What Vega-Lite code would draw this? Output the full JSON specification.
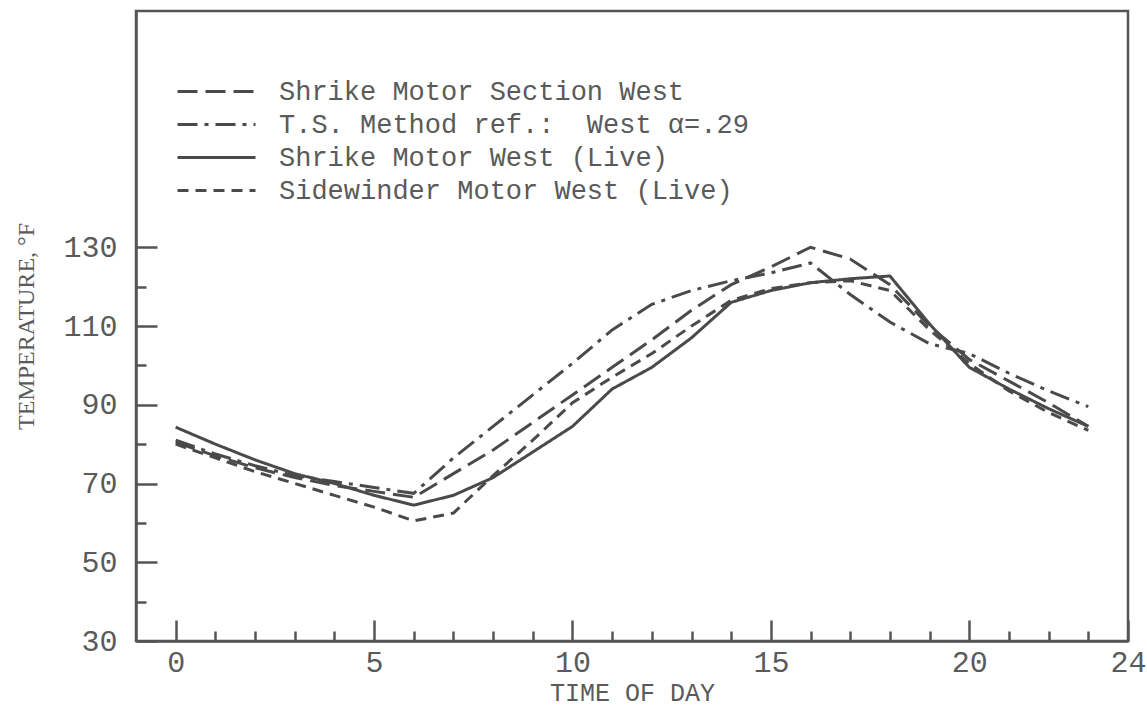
{
  "$schema": "https://vega.github.io/schema/vega-lite/v6.json",
  "width": 992,
  "height": 630,
  "autosize": {"type": "none"},
  "padding": {"left": 136, "top": 11, "right": 19, "bottom": 68},
  "background": "white",
  "config": {
    "view": {"stroke": "#555555", "strokeWidth": 2.5},
    "font": "Liberation Mono",
    "axis": {
      "domainColor": "#555555", "domainWidth": 2.5,
      "tickColor": "#555555", "tickWidth": 2.5,
      "grid": false,
      "labelColor": "#5a5a5a", "titleColor": "#5a5a5a",
      "labelFont": "Liberation Mono", "titleFont": "Liberation Mono",
      "titleFontWeight": "normal"
    },
    "legend": {
      "orient": "none", "legendX": 40, "legendY": 64,
      "symbolType": "stroke", "symbolSize": 6084, "symbolStrokeWidth": 3,
      "symbolStrokeColor": "#4a4a4a",
      "labelFont": "Liberation Mono", "labelFontSize": 27, "labelColor": "#5a5a5a",
      "labelOffset": 22, "labelLimit": 800, "clipHeight": 33, "rowPadding": 0,
      "padding": 0
    }
  },
  "data": {"values": [
    {"h":0,"t":80.5,"s":"A"},{"h":1,"t":77,"s":"A"},{"h":2,"t":74,"s":"A"},{"h":3,"t":71.5,"s":"A"},{"h":4,"t":69.5,"s":"A"},{"h":5,"t":68,"s":"A"},{"h":6,"t":66.5,"s":"A"},{"h":7,"t":72.5,"s":"A"},{"h":8,"t":78.5,"s":"A"},{"h":9,"t":85.5,"s":"A"},{"h":10,"t":92.5,"s":"A"},{"h":11,"t":99.5,"s":"A"},{"h":12,"t":106.5,"s":"A"},{"h":13,"t":114,"s":"A"},{"h":14,"t":120.5,"s":"A"},{"h":15,"t":125,"s":"A"},{"h":16,"t":130,"s":"A"},{"h":17,"t":127,"s":"A"},{"h":18,"t":120.5,"s":"A"},{"h":19,"t":110,"s":"A"},{"h":20,"t":101.5,"s":"A"},{"h":21,"t":96,"s":"A"},{"h":22,"t":90.5,"s":"A"},{"h":23,"t":84.5,"s":"A"},
    {"h":0,"t":81,"s":"B"},{"h":1,"t":77.5,"s":"B"},{"h":2,"t":74.5,"s":"B"},{"h":3,"t":72,"s":"B"},{"h":4,"t":70.5,"s":"B"},{"h":5,"t":69,"s":"B"},{"h":6,"t":67.5,"s":"B"},{"h":7,"t":76.5,"s":"B"},{"h":8,"t":84.5,"s":"B"},{"h":9,"t":92.5,"s":"B"},{"h":10,"t":100.5,"s":"B"},{"h":11,"t":109,"s":"B"},{"h":12,"t":115.5,"s":"B"},{"h":13,"t":119,"s":"B"},{"h":14,"t":121.5,"s":"B"},{"h":15,"t":123.5,"s":"B"},{"h":16,"t":126,"s":"B"},{"h":17,"t":118,"s":"B"},{"h":18,"t":111,"s":"B"},{"h":19,"t":105.5,"s":"B"},{"h":20,"t":103,"s":"B"},{"h":21,"t":98,"s":"B"},{"h":22,"t":93.5,"s":"B"},{"h":23,"t":89.5,"s":"B"},
    {"h":0,"t":84.3,"s":"C"},{"h":1,"t":80,"s":"C"},{"h":2,"t":76,"s":"C"},{"h":3,"t":72.5,"s":"C"},{"h":4,"t":70,"s":"C"},{"h":5,"t":67,"s":"C"},{"h":6,"t":64.5,"s":"C"},{"h":7,"t":67,"s":"C"},{"h":8,"t":71.5,"s":"C"},{"h":9,"t":78,"s":"C"},{"h":10,"t":84.5,"s":"C"},{"h":11,"t":94,"s":"C"},{"h":12,"t":99.5,"s":"C"},{"h":13,"t":107,"s":"C"},{"h":14,"t":116,"s":"C"},{"h":15,"t":119,"s":"C"},{"h":16,"t":121,"s":"C"},{"h":17,"t":122,"s":"C"},{"h":18,"t":122.7,"s":"C"},{"h":19,"t":110.5,"s":"C"},{"h":20,"t":99.5,"s":"C"},{"h":21,"t":94,"s":"C"},{"h":22,"t":89,"s":"C"},{"h":23,"t":84.5,"s":"C"},
    {"h":0,"t":80,"s":"D"},{"h":1,"t":76.5,"s":"D"},{"h":2,"t":73,"s":"D"},{"h":3,"t":70,"s":"D"},{"h":4,"t":67,"s":"D"},{"h":5,"t":64,"s":"D"},{"h":6,"t":60.5,"s":"D"},{"h":7,"t":62.5,"s":"D"},{"h":8,"t":72,"s":"D"},{"h":9,"t":81,"s":"D"},{"h":10,"t":90.5,"s":"D"},{"h":11,"t":97,"s":"D"},{"h":12,"t":103,"s":"D"},{"h":13,"t":110,"s":"D"},{"h":14,"t":116.5,"s":"D"},{"h":15,"t":119.5,"s":"D"},{"h":16,"t":121,"s":"D"},{"h":17,"t":121.5,"s":"D"},{"h":18,"t":119,"s":"D"},{"h":19,"t":109,"s":"D"},{"h":20,"t":100.5,"s":"D"},{"h":21,"t":93.5,"s":"D"},{"h":22,"t":88,"s":"D"},{"h":23,"t":83.5,"s":"D"}
  ]},
  "transform": [
    {"lookup": "s", "from": {"data": {"values": [
      {"s":"A","name":"Shrike Motor Section West"},
      {"s":"B","name":"T.S. Method ref.:\u00a0 West α=.29"},
      {"s":"C","name":"Shrike Motor West (Live)"},
      {"s":"D","name":"Sidewinder Motor West (Live)"}
    ]}, "key": "s", "fields": ["name"]}}
  ],
  "layer": [
    {
      "mark": {"type": "line", "color": "#4a4a4a", "strokeWidth": 3},
      "encoding": {
        "x": {"field": "h", "type": "quantitative",
          "scale": {"domain": [-1, 24], "nice": false, "zero": false},
          "axis": {"orient": "bottom", "values": [0, 5, 10, 15, 20, 24], "tickSize": -21,
            "labelPadding": 27, "labelFontSize": 30, "labelFlush": false, "labelOverlap": false,
            "title": "TIME OF DAY", "titleFontSize": 25, "titlePadding": 3}},
        "y": {"field": "t", "type": "quantitative",
          "scale": {"domain": [30, 190], "nice": false, "zero": false},
          "axis": {"orient": "left", "values": [30, 50, 70, 90, 110, 130], "tickSize": -21,
            "labelPadding": 40, "labelFontSize": 30, "labelFlush": false, "labelOverlap": false,
            "title": "TEMPERATURE, °F", "titleFont": "Liberation Serif", "titleFontSize": 24, "titlePadding": 24}},
        "strokeDash": {"field": "name", "type": "nominal",
          "scale": {"domain": ["Shrike Motor Section West", "T.S. Method ref.:\u00a0 West α=.29", "Shrike Motor West (Live)", "Sidewinder Motor West (Live)"],
                    "range": [[20, 8], [20, 7, 4, 7], [1, 0], [11, 7]]},
          "legend": {"title": null}}
      }
    },
    {
      "mark": {"type": "point", "opacity": 0},
      "encoding": {
        "x": {"field": "h", "type": "quantitative",
          "axis": {"orient": "bottom", "values": [1,2,3,4,6,7,8,9,11,12,13,14,16,17,18,19,21,22,23], "tickSize": -10,
            "labels": false, "domain": false, "title": null}},
        "y": {"field": "t", "type": "quantitative",
          "axis": {"orient": "left", "values": [40, 60, 80, 100, 120], "tickSize": -10,
            "labels": false, "domain": false, "title": null}}
      }
    }
  ],
  "resolve": {"axis": {"x": "independent", "y": "independent"}}
}
